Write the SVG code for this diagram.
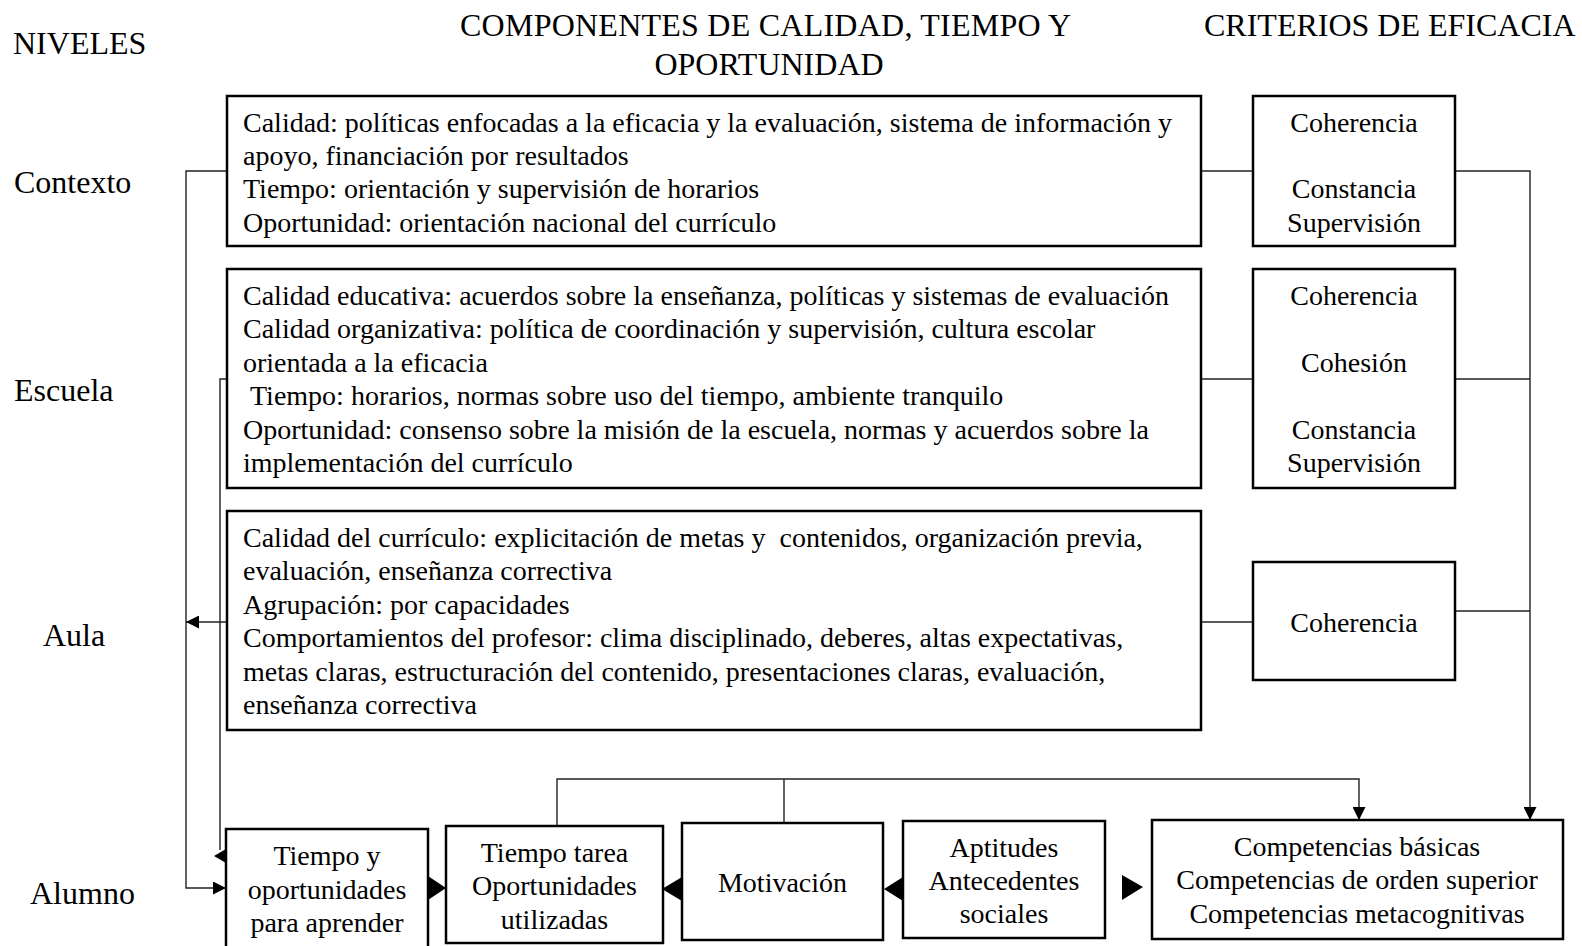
<svg xmlns="http://www.w3.org/2000/svg" width="1582" height="946" viewBox="0 0 1582 946">
<defs>
<style>
text{font-family:"Liberation Serif","Times New Roman",serif;fill:#000}
.h{font-size:32px}
.t{font-size:28px}
.c{text-anchor:middle}
.box{fill:#fff;stroke:#000;stroke-width:2.5}
.ln{fill:none;stroke:#222;stroke-width:1.4}
.ah{fill:#000}
</style>
<marker id="arr" viewBox="0 0 10 10" refX="10" refY="5" markerWidth="13" markerHeight="13" markerUnits="userSpaceOnUse" orient="auto">
<path d="M0,0 L10,5 L0,10 z" fill="#000"/>
</marker>
</defs>
<rect width="1582" height="946" fill="#fff"/>

<g id="headers">
<text class="h" x="13" y="54">NIVELES</text>
<text class="h" x="460" y="36" textLength="611" lengthAdjust="spacing">COMPONENTES DE CALIDAD, TIEMPO Y</text>
<text class="h c" x="769" y="75">OPORTUNIDAD</text>
<text class="h" x="1204" y="36">CRITERIOS DE EFICACIA</text>
</g>

<g id="levels">
<text class="h" x="14" y="193">Contexto</text>
<text class="h" x="14" y="401">Escuela</text>
<text class="h" x="43" y="646">Aula</text>
<text class="h" x="30" y="904">Alumno</text>
</g>

<g id="connectors">
<path class="ln" d="M226,171 H186 V888 H226" marker-end="url(#arr)"/>
<path class="ln" d="M226,379 H220 V850"/>
<polygon class="ah" points="214,856 226,849 226,863"/>
<path class="ln" d="M226,622 H186" marker-end="url(#arr)"/>
<path class="ln" d="M1201,171 H1253"/>
<path class="ln" d="M1201,379 H1253"/>
<path class="ln" d="M1201,622 H1253"/>
<path class="ln" d="M1455,171 H1530 V820" marker-end="url(#arr)"/>
<path class="ln" d="M1455,379 H1530"/>
<path class="ln" d="M1455,611 H1530"/>
<path class="ln" d="M557,826 V779 H1359 V820" marker-end="url(#arr)"/>
<path class="ln" d="M784,823 V779"/>
<polygon class="ah" points="428,876 428,900 446,888"/>
<polygon class="ah" points="682,877 682,901 662,889"/>
<polygon class="ah" points="903,877 903,901 884,889"/>
<polygon class="ah" points="1122,875 1122,900 1143,887"/>
</g>

<g id="comp-contexto">
<rect class="box" x="227" y="96" width="974" height="150"/>
<text class="t" x="243" y="131.5">Calidad: políticas enfocadas a la eficacia y la evaluación, sistema de información y</text>
<text class="t" x="243" y="164.9">apoyo, financiación por resultados</text>
<text class="t" x="243" y="198.3">Tiempo: orientación y supervisión de horarios</text>
<text class="t" x="243" y="231.7">Oportunidad: orientación nacional del currículo</text>
</g>

<g id="comp-escuela">
<rect class="box" x="227" y="269" width="974" height="219"/>
<text class="t" x="243" y="305">Calidad educativa: acuerdos sobre la enseñanza, políticas y sistemas de evaluación</text>
<text class="t" x="243" y="338.4">Calidad organizativa: política de coordinación y supervisión, cultura escolar</text>
<text class="t" x="243" y="371.8">orientada a la eficacia</text>
<text class="t" x="250" y="405.2">Tiempo: horarios, normas sobre uso del tiempo, ambiente tranquilo</text>
<text class="t" x="243" y="438.6">Oportunidad: consenso sobre la misión de la escuela, normas y acuerdos sobre la</text>
<text class="t" x="243" y="472">implementación del currículo</text>
</g>

<g id="comp-aula">
<rect class="box" x="227" y="511" width="974" height="219"/>
<text class="t" x="243" y="547">Calidad del currículo: explicitación de metas y&#160; contenidos, organización previa,</text>
<text class="t" x="243" y="580.4">evaluación, enseñanza correctiva</text>
<text class="t" x="243" y="613.8">Agrupación: por capacidades</text>
<text class="t" x="243" y="647.2">Comportamientos del profesor: clima disciplinado, deberes, altas expectativas,</text>
<text class="t" x="243" y="680.6">metas claras, estructuración del contenido, presentaciones claras, evaluación,</text>
<text class="t" x="243" y="714">enseñanza correctiva</text>
</g>

<g id="crit-contexto">
<rect class="box" x="1253" y="96" width="202" height="150"/>
<text class="t c" x="1354" y="131.5">Coherencia</text>
<text class="t c" x="1354" y="198.3">Constancia</text>
<text class="t c" x="1354" y="231.7">Supervisión</text>
</g>

<g id="crit-escuela">
<rect class="box" x="1253" y="269" width="202" height="219"/>
<text class="t c" x="1354" y="305">Coherencia</text>
<text class="t c" x="1354" y="371.8">Cohesión</text>
<text class="t c" x="1354" y="438.6">Constancia</text>
<text class="t c" x="1354" y="472">Supervisión</text>
</g>

<g id="crit-aula">
<rect class="box" x="1253" y="562" width="202" height="118"/>
<text class="t c" x="1354" y="632">Coherencia</text>
</g>

<g id="tiempo-oportunidades">
<rect class="box" x="226" y="829" width="202" height="130"/>
<text class="t c" x="327" y="865">Tiempo y</text>
<text class="t c" x="327" y="899">oportunidades</text>
<text class="t c" x="327" y="932">para aprender</text>
</g>

<g id="tiempo-tarea">
<rect class="box" x="446" y="826" width="217" height="117"/>
<text class="t c" x="554.5" y="862">Tiempo tarea</text>
<text class="t c" x="554.5" y="895">Oportunidades</text>
<text class="t c" x="554.5" y="929">utilizadas</text>
</g>

<g id="motivacion">
<rect class="box" x="682" y="823" width="201" height="117"/>
<text class="t c" x="782.5" y="892">Motivación</text>
</g>

<g id="aptitudes">
<rect class="box" x="903" y="821" width="202" height="117"/>
<text class="t c" x="1004" y="857">Aptitudes</text>
<text class="t c" x="1004" y="890">Antecedentes</text>
<text class="t c" x="1004" y="923">sociales</text>
</g>

<g id="competencias">
<rect class="box" x="1152" y="820" width="411" height="119"/>
<text class="t c" x="1357" y="856">Competencias básicas</text>
<text class="t c" x="1357" y="889">Competencias de orden superior</text>
<text class="t c" x="1357" y="923">Competencias metacognitivas</text>
</g>
</svg>
